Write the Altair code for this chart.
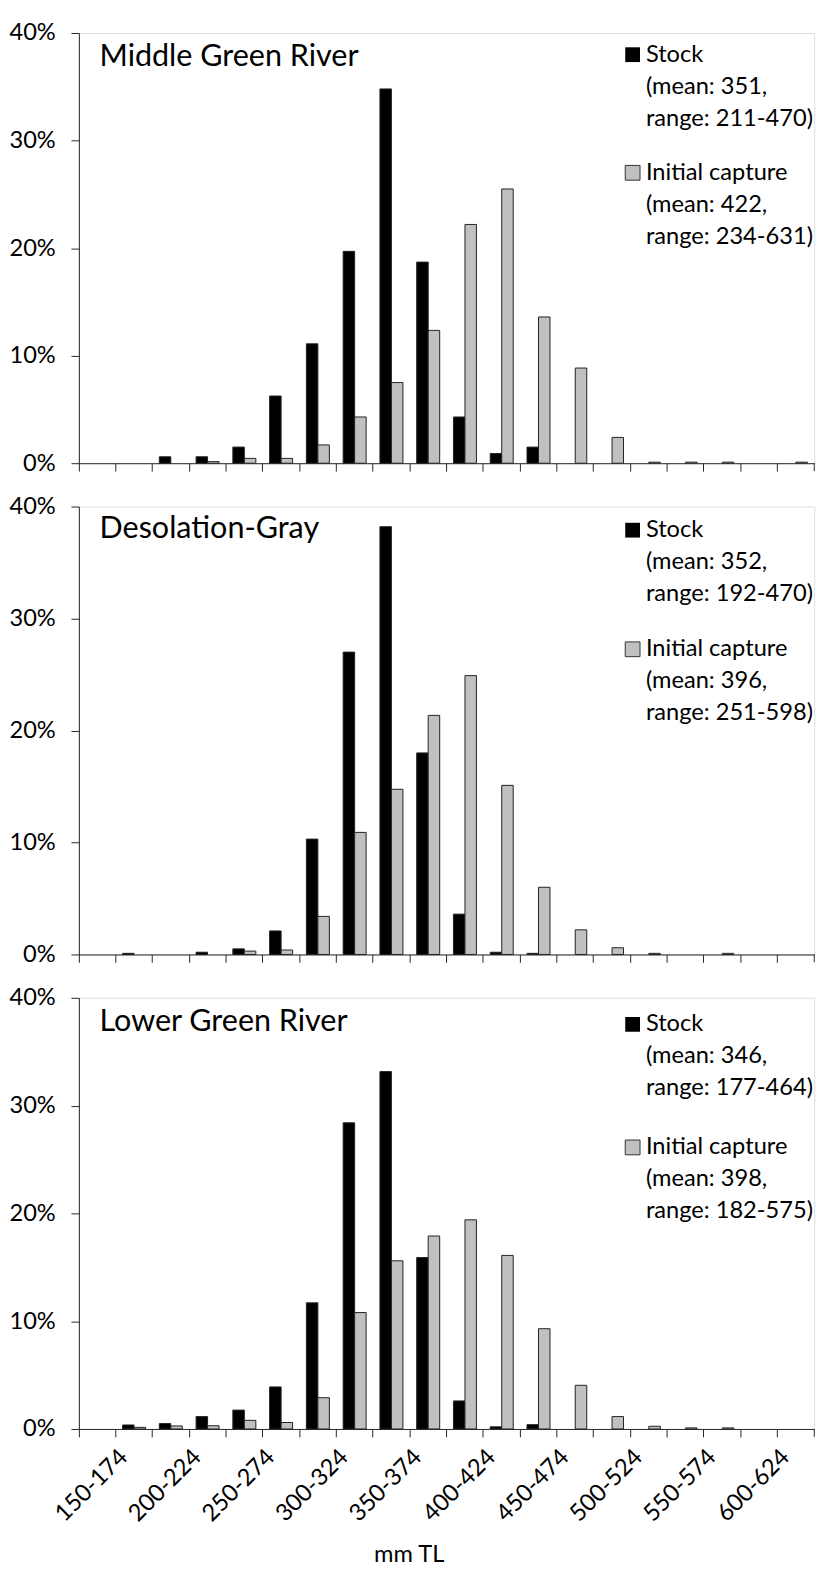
import altair as alt
import pandas as pd

FONT = "Lato"

BINS = ["150-174", "175-199", "200-224", "225-249", "250-274", "275-299",
        "300-324", "325-349", "350-374", "375-399", "400-424", "425-449",
        "450-474", "475-499", "500-524", "525-549", "550-574", "575-599",
        "600-624", "625-649"]
SERIES = ["Stock", "Initial capture"]
PANELS = ["Middle Green River", "Desolation-Gray", "Lower Green River"]

# percent of fish in each 25-mm total-length bin
MGR_STOCK = [0, 0, 0.6, 0.6, 1.5, 6.25, 11.1, 19.7, 34.8, 18.7, 4.3, 0.9, 1.5,
             0, 0, 0, 0, 0, 0, 0]
MGR_INITIAL = [0, 0, 0, 0.15, 0.45, 0.45, 1.7, 4.3, 7.5, 12.35, 22.2, 25.5, 13.6,
               8.85, 2.4, 0.1, 0.1, 0.1, 0, 0.1]
DG_STOCK = [0, 0.1, 0, 0.2, 0.5, 2.1, 10.3, 27.0, 38.2, 18.0, 3.6, 0.2, 0.1,
            0, 0, 0, 0, 0, 0, 0]
DG_INITIAL = [0, 0, 0, 0, 0.3, 0.4, 3.4, 10.9, 14.75, 21.35, 24.9, 15.1, 6.0,
              2.2, 0.6, 0.1, 0, 0.1, 0, 0]
LGR_STOCK = [0, 0.37, 0.5, 1.15, 1.75, 3.9, 11.7, 28.4, 33.15, 15.9, 2.6, 0.2, 0.4,
             0, 0, 0, 0, 0, 0, 0]
LGR_INITIAL = [0, 0.15, 0.28, 0.3, 0.8, 0.6, 2.9, 10.8, 15.6, 17.9, 19.4, 16.1, 9.3,
               4.05, 1.15, 0.25, 0.1, 0.1, 0, 0]

STOCK_MEAN = [351, 352, 346]
STOCK_RANGE = ["211-470", "192-470", "177-464"]
INIT_MEAN = [422, 396, 398]
INIT_RANGE = ["234-631", "251-598", "182-575"]

Y_TICKS = [0, 10, 20, 30, 40]
X_TITLE = "mm TL"

STOCK_VALUES = [MGR_STOCK, DG_STOCK, LGR_STOCK]
INIT_VALUES = [MGR_INITIAL, DG_INITIAL, LGR_INITIAL]

# layout (pixels)
W = 747
HEIGHTS = [437, 455, 438]
TITLE_Y = [33, 32, 34]
STOCK_BASE = [29, 31, 34]
INIT_BASE = [149, 152, 159]
LINE = 32.5
FS = 24
AXIS_COLOR = "#262626"
GRAY = "#C0C0C0"


def text_layer(txt, x, y, size, align="left"):
    return alt.Chart(pd.DataFrame({"t": [txt]})).mark_text(
        align=align, baseline="alphabetic", fontSize=size, font=FONT, color="black"
    ).encode(x=alt.value(x), y=alt.value(y), text="t:N")


def panel(i):
    rows = []
    for b, s, g in zip(BINS, STOCK_VALUES[i], INIT_VALUES[i]):
        rows.append({"bin": b, "series": SERIES[0], "value": s})
        rows.append({"bin": b, "series": SERIES[1], "value": g})
    df = pd.DataFrame(rows)
    H = HEIGHTS[i]
    last = i == len(PANELS) - 1

    if last:
        xaxis = alt.Axis(
            bandPosition=0, labelOffset=W / len(BINS) / 2, labelAngle=-45,
            labelExpr="parseInt(slice(datum.value, 0, 3)) % 50 == 0 ? datum.value : ''",
            labelFontSize=FS, labelFont=FONT, labelColor="black", labelPadding=8,
            tickSize=8, tickColor=AXIS_COLOR, domainColor=AXIS_COLOR,
            title=X_TITLE, titleFontSize=FS, titleFont=FONT, titleFontWeight="normal",
            titleColor="black", titleX=335, titleY=135, titleBaseline="alphabetic",
            grid=False,
        )
    else:
        xaxis = alt.Axis(
            bandPosition=0, labels=False, tickSize=8, tickColor=AXIS_COLOR,
            domainColor=AXIS_COLOR, title=None, grid=False,
        )

    yaxis = alt.Axis(
        values=Y_TICKS, labelExpr="datum.value + '%'", grid=False, tickSize=8,
        tickColor=AXIS_COLOR, domainColor=AXIS_COLOR, labelFontSize=FS,
        labelFont=FONT, labelColor="black", labelPadding=16, title=None,
    )

    bars = alt.Chart(df).transform_filter("datum.value > 0").mark_bar(
        stroke="#222222", strokeWidth=1
    ).encode(
        x=alt.X("bin:N", sort=BINS,
                scale=alt.Scale(domain=BINS, paddingInner=0, paddingOuter=0),
                axis=xaxis),
        xOffset=alt.XOffset("series:N", sort=SERIES,
                            scale=alt.Scale(domain=SERIES, paddingInner=0, paddingOuter=0.6)),
        y=alt.Y("value:Q", scale=alt.Scale(domain=[0, 40], nice=False), axis=yaxis),
        color=alt.Color("series:N", scale=alt.Scale(domain=SERIES, range=["#000000", GRAY]),
                        legend=None),
    )

    end_tick = alt.Chart(pd.DataFrame({"a": [0]})).mark_rule(color=AXIS_COLOR).encode(
        x=alt.value(W), y=alt.value(H), y2=alt.value(H + 8)
    )

    layers = [bars, end_tick, text_layer(PANELS[i], 21, TITLE_Y[i], 31)]

    sq_x = W - 184.5
    tx = W - 171
    sb = STOCK_BASE[i]
    ib = INIT_BASE[i]
    layers.append(alt.Chart(pd.DataFrame({"a": [0]})).mark_square(
        size=225, color="#000000", opacity=1).encode(x=alt.value(sq_x), y=alt.value(sb - 7)))
    layers.append(alt.Chart(pd.DataFrame({"a": [0]})).mark_square(
        size=225, color=GRAY, stroke="#333333", strokeWidth=1, opacity=1).encode(
        x=alt.value(sq_x), y=alt.value(ib - 7)))
    layers.append(text_layer(SERIES[0], tx, sb, FS))
    layers.append(text_layer(f"(mean: {STOCK_MEAN[i]},", tx, sb + LINE, FS))
    layers.append(text_layer(f"range: {STOCK_RANGE[i]})", tx, sb + 2 * LINE, FS))
    layers.append(text_layer(SERIES[1], tx, ib, FS))
    layers.append(text_layer(f"(mean: {INIT_MEAN[i]},", tx, ib + LINE, FS))
    layers.append(text_layer(f"range: {INIT_RANGE[i]})", tx, ib + 2 * LINE, FS))

    return alt.layer(*layers).properties(width=W, height=H)


chart = alt.vconcat(*[panel(i) for i in range(3)], spacing=18).properties(
    padding=0
).configure_view(stroke=None).configure(font=FONT)

chart.save("out.html", embed_options={"renderer": "svg", "actions": False})
